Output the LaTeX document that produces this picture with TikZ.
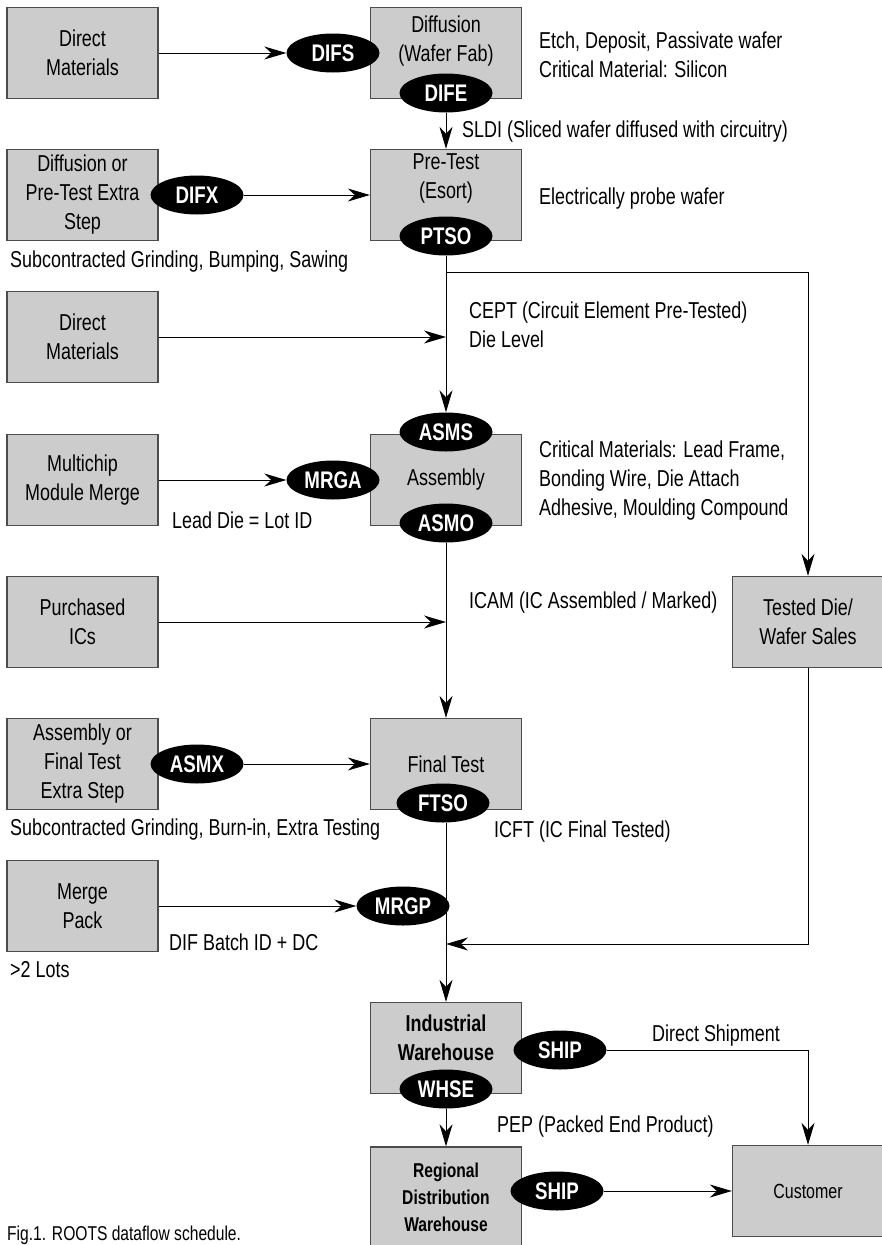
\documentclass[tikz,border=0pt]{standalone}
\usepackage{fontspec}
\setmainfont[FakeStretch=0.78]{Liberation Sans}
\usetikzlibrary{shapes.geometric,arrows.meta}

\newcommand{\stepfont}{\fontsize{23}{29}\selectfont}
\newcommand{\tagfont}{\fontsize{24}{29}\selectfont\bfseries}
\newcommand{\capfont}{\fontsize{20}{24}\selectfont}

\begin{document}
\begin{tikzpicture}[x=1pt, y=-1pt,
		stepbox/.style={draw=black!70, line width=1.3pt, fill=black!20, minimum width=151pt,
				minimum height=91pt, inner sep=0pt, align=center, font=\stepfont},
		boxtext/.style={align=center, inner sep=0pt, font=\stepfont},
		tag/.style={ellipse, fill=black, text=white, minimum width=93pt, minimum height=39pt,
				inner sep=0pt, font=\tagfont},
		note/.style={anchor=base west, align=left, inner sep=0pt, font=\stepfont},
		flow/.style={line width=1pt, -{Stealth[length=22pt, width=13pt, inset=7pt]}}]
		\useasboundingbox (0,0) rectangle (882,1245);

		% Sources down the left side
		\foreach \nm/\y/\txt in {dma/53/{Direct\\Materials},
				xdif/195/{Diffusion or\\Pre-Test Extra\\Step},
				dmb/337/{Direct\\Materials},
				mcm/480/{Multichip\\Module Merge},
				pic/622/{Purchased\\ICs},
				xasm/764/{Assembly or\\Final Test\\Extra Step},
				mpk/906/{Merge\\Pack}} {
				\node[stepbox] (\nm) at (82.5,\y) {\txt};
			}

		% Main process column
		\node[stepbox, label={[boxtext, yshift=12pt]center:Diffusion\\(Wafer Fab)}] (dif) at (446,53) {};
		\node[stepbox, label={[boxtext, yshift=17pt]center:Pre-Test\\(Esort)}] (pre) at (446,195) {};
		\node[stepbox] (asm) at (446,480) {Assembly};
		\node[stepbox] (fin) at (446,764) {Final Test};
		\node[stepbox, label={[boxtext, font=\stepfont\bfseries, yshift=10pt]center:Industrial\\Warehouse}] (iwh) at (446,1048) {};
		\node[stepbox, minimum height=100pt, font=\fontsize{20}{27}\selectfont\bfseries] (rdw) at (446,1197) {Regional\\Distribution\\Warehouse};

		% Right column
		\node[stepbox] (tdw) at (808,622) {Tested Die/\\Wafer Sales};
		\node[stepbox, font=\fontsize{20.5}{25}\selectfont] (cus) at (808,1191) {Customer};

		% Transaction tags
		\foreach \nm/\x/\y/\txt in {difs/333/53/DIFS, dife/446/93/DIFE, difx/197/195/DIFX,
				ptso/446/236/PTSO, asms/446/432/ASMS, mrga/333/480/MRGA, asmo/446/523/ASMO,
				asmx/197/764/ASMX, ftso/443/803/FTSO, mrgp/403/906/MRGP, whse/446/1089/WHSE,
				shpa/560/1050/SHIP, shpb/557/1191/SHIP} {
				\node[tag] (\nm) at (\x,\y) {\txt};
			}

		% Flow lines
		\coordinate (split) at (446,272);
		\coordinate (join) at (446,944);
		\draw[flow] (dma) -- (difs);
		\draw[flow] (dife) -- (pre);
		\draw[flow] (difx) -- (pre);
		\draw[flow] (ptso) -- (asms);
		\draw[flow] (split) -| (tdw);
		\draw[flow] (dmb) -- (dmb -| ptso);
		\draw[flow] (mcm) -- (mrga);
		\draw[flow] (asmo) -- (fin);
		\draw[flow] (pic) -- (pic -| asmo);
		\draw[flow] (asmx) -- (fin);
		\draw[flow] (ftso.south -| iwh) -- (iwh);
		\draw[flow] (mpk) -- (mrgp);
		\draw[flow] (tdw) |- (join);
		\draw[flow] (whse) -- (rdw);
		\draw[flow] (shpa) -| (cus);
		\draw[flow] (shpb) -- (cus);

		% Notes beside the flow (base = last line)
		\node[note] (etch) at (539,77) {Etch, Deposit, Passivate wafer\\Critical Material: Silicon};
		\node[note] (sldi) at (462,137) {SLDI (Sliced wafer diffused with circuitry)};
		\node[note] (probe) at (539,204) {Electrically probe wafer};
		\node[note] (subc) at (10,267) {Subcontracted Grinding, Bumping, Sawing};
		\node[note] (cept) at (469,347) {CEPT (Circuit Element Pre-Tested)\\Die Level};
		\node[note] (crit) at (539,515) {Critical Materials: Lead Frame,\\Bonding Wire, Die Attach\\Adhesive, Moulding Compound};
		\node[note] (lead) at (172,528) {Lead Die = Lot ID};
		\node[note] (icam) at (469,608) {ICAM (IC Assembled / Marked)};
		\node[note] (subt) at (10,835) {Subcontracted Grinding, Burn-in, Extra Testing};
		\node[note] (icft) at (494,837) {ICFT (IC Final Tested)};
		\node[note] (batch) at (169,950) {DIF Batch ID + DC};
		\node[note] (lots) at (10,977) {>2 Lots};
		\node[note] (ship) at (652,1041) {Direct Shipment};
		\node[note] (pep) at (497,1132) {PEP (Packed End Product)};
		\node[note, font=\capfont] (cap) at (7,1240) {Fig.1. ROOTS dataflow schedule.};
	\end{tikzpicture}
\end{document}
